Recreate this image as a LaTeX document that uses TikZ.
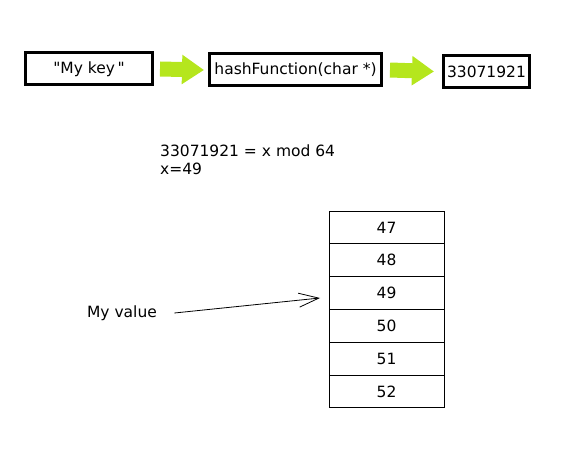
\documentclass[tikz,border=0pt]{standalone}
\usepackage{fontspec}
\setmainfont{DejaVu Sans}
\usetikzlibrary{positioning,arrows.meta}

\definecolor{paintlime}{RGB}{181,230,29}

\begin{document}
\begin{tikzpicture}[x=1pt,y=-1pt,
    font=\fontsize{15.5}{18}\selectfont,
    bigbox/.style={draw, line width=3pt, minimum height=32pt, inner sep=3pt},
    bigarrow/.style={paintlime, line width=15pt, -{Triangle[length=22pt,width=28pt]}},
    slot/.style={draw, line width=0.8pt, minimum width=115pt, minimum height=32.8pt}]
  % fix the page to the reference size
  \useasboundingbox (0,0) rectangle (565,462);

  %-----------------------------
  % key -> hash function -> hash
  \node[bigbox, minimum width=127pt] (key) at (89,69) {\textquotedbl My key\,\textquotedbl};
  \node[bigbox, minimum width=172pt] (hash) at (295.5,70) {hashFunction(char *)};
  \node[bigbox, minimum width=86pt] (num) at (486.5,71.5) {33071921};

  \draw[bigarrow] ([xshift=6pt]key.east) -- ([xshift=-4pt]hash.west);
  \draw[bigarrow] ([xshift=7pt]hash.east) -- ([xshift=-8pt]num.west);

  %-----------------------------
  % the modulo
  \node[anchor=north west, align=left, inner sep=0pt] (calc) at (160,145)
       {33071921 = x mod 64\\x=49};

  %-----------------------------
  % the table slots 47..52
  \node[slot] (s47) at (386.5,227.4) {47};
  \foreach \n [remember=\n as \prev (initially 47)] in {48,...,52}
    \node[slot, below=-0.8pt of s\prev] (s\n) {\n};

  %-----------------------------
  % the value goes into slot 49
  \node (val) at (122,313) {My value};
  \coordinate (tip) at (320,298);
  \draw[line width=0.8pt, -{Straight Barb[length=20pt,width=14pt]}] ([xshift=14pt]val.east) -- (tip);
\end{tikzpicture}
\end{document}
